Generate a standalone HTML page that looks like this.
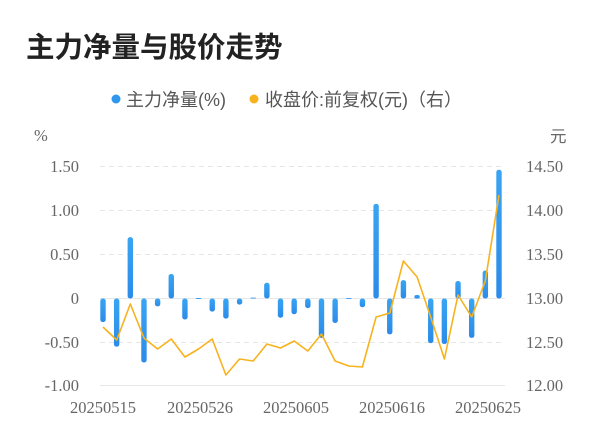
<!DOCTYPE html>
<html><head><meta charset="utf-8"><style>
body{margin:0;background:#fff;}
svg{display:block;}
</style></head><body>
<svg width="600" height="446" xmlns="http://www.w3.org/2000/svg">
<defs><linearGradient id="g" x1="0" y1="0" x2="0" y2="1"><stop offset="0" stop-color="#39a5f2"/><stop offset="1" stop-color="#2b8be9"/></linearGradient></defs>
<text x="26" y="57" font-family="'Liberation Sans','Noto Sans CJK SC',sans-serif" font-size="28.5" font-weight="bold" fill="#222">主力净量与股价走势</text>
<circle cx="116" cy="99" r="4.5" fill="#2f97ee"/>
<text x="126" y="106" font-family="'Liberation Sans','Noto Sans CJK SC',sans-serif" font-size="18" fill="#555">主力净量(%)</text>
<circle cx="254" cy="99" r="4.5" fill="#f7b21e"/>
<text x="265" y="106" font-family="'Liberation Sans','Noto Sans CJK SC',sans-serif" font-size="18" fill="#555">收盘价:前复权(元)（右）</text>
<g font-family="'Liberation Serif','Noto Serif CJK SC',serif" font-size="16.5" fill="#666">
<text x="34" y="141">%</text>
<text x="550" y="142" font-family="'Liberation Sans','Noto Sans CJK SC',sans-serif">元</text>
<g text-anchor="end">
<text x="79" y="172">1.50</text><text x="79" y="216">1.00</text><text x="79" y="260">0.50</text><text x="79" y="304">0</text><text x="79" y="348">-0.50</text><text x="79" y="391">-1.00</text>
</g>
<text x="526" y="172">14.50</text><text x="526" y="216">14.00</text><text x="526" y="260">13.50</text><text x="526" y="304">13.00</text><text x="526" y="348">12.50</text><text x="526" y="391">12.00</text>
<g text-anchor="middle">
<text x="103" y="413">20250515</text><text x="200" y="413">20250526</text><text x="296" y="413">20250605</text><text x="392" y="413">20250616</text><text x="488" y="413">20250625</text>
</g>
</g>
<g stroke="#e6e6e6" stroke-width="1" stroke-dasharray="5,4">
<line x1="100" y1="166.5" x2="505" y2="166.5"/><line x1="100" y1="210.5" x2="505" y2="210.5"/><line x1="100" y1="254.5" x2="505" y2="254.5"/><line x1="100" y1="342.5" x2="505" y2="342.5"/>
</g>
<line x1="100" y1="298.5" x2="505" y2="298.5" stroke="#e6e6e6"/>
<line x1="100" y1="385.5" x2="505" y2="385.5" stroke="#e6e6e6"/>
<g id="bars" fill="url(#g)"></g>
<polyline id="ln" fill="none" stroke="#f7b21e" stroke-width="1.6" stroke-linejoin="round"/>
</svg>
<script>
var v=[-0.27,-0.55,0.70,-0.73,-0.09,0.28,-0.24,0.005,-0.15,-0.23,-0.07,0.01,0.18,-0.22,-0.18,-0.11,-0.45,-0.28,0.005,-0.10,1.08,-0.41,0.21,0.04,-0.51,-0.52,0.20,-0.45,0.32,1.47];
var p=[327,340,304,338,349,339,357,349,339,375,359,361,344,348,341,351,334,361,366,367,317,313,261,277,317,359,295,317,281,195];
var ns="http://www.w3.org/2000/svg",g=document.getElementById('bars'),pts=[];
for(var i=0;i<30;i++){var x=103+i*13.655;var h=Math.abs(v[i])*87.6;var y=v[i]>=0?298.5-h:298.5;
var r=document.createElementNS(ns,'rect');r.setAttribute('x',x-2.7);r.setAttribute('y',y);r.setAttribute('width',5.4);r.setAttribute('height',Math.max(h,0.8));r.setAttribute('rx',Math.min(2.5,h/2));g.appendChild(r);
pts.push(x.toFixed(1)+','+p[i]);}
document.getElementById('ln').setAttribute('points',pts.join(' '));
</script>
</body></html>
